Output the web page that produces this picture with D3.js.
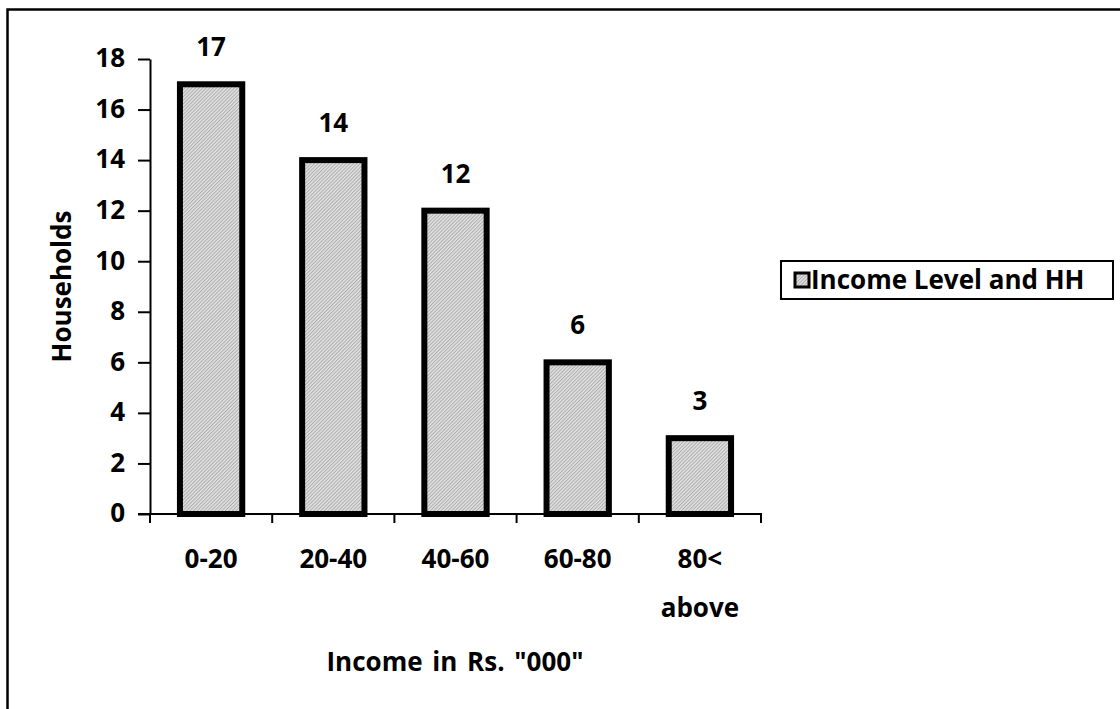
<!DOCTYPE html>
<html>
<head>
<meta charset="utf-8">
<script src="https://cdn.jsdelivr.net/npm/d3@7"></script>
<style>
  html, body { margin: 0; padding: 0; background: #fff; }
  svg { display: block; }
  text { font-family: "Open Sans", Lato, sans-serif; font-weight: bold; fill: #000; }
</style>
</head>
<body>
<svg id="chart" width="1120" height="709"></svg>
<script>
// Income bands (Rs. '000) and number of households in each
const categories = ["0-20", "20-40", "40-60", "60-80", "80< above"];
const households = [17, 14, 12, 6, 3];
const yTicks = [0, 2, 4, 6, 8, 10, 12, 14, 16, 18];
const seriesName = "Income Level and HH";
const xTitle = 'Income in Rs. "000"';
const yTitle = "Households";

const FONT = "'Open Sans', Lato, sans-serif";
const FS = "26px";

const svg = d3.select("#chart");

// hatched grey fill for the bars
const defs = svg.append("defs");
const pat = defs.append("pattern")
  .attr("id", "hatch")
  .attr("patternUnits", "userSpaceOnUse")
  .attr("width", 2.5).attr("height", 2.5)
  .attr("patternTransform", "rotate(45)");
pat.append("rect").attr("width", 2.5).attr("height", 2.5).attr("fill", "#e2e2e2");
pat.append("rect").attr("width", 1).attr("height", 2.5).attr("fill", "#acacac");

// outer frame
svg.append("rect")
  .attr("x", 7.5).attr("y", 9.5)
  .attr("width", 1130).attr("height", 720)
  .attr("fill", "none").attr("stroke", "#000").attr("stroke-width", 2.5);

const plot = { left: 150, right: 761, top: 59, bottom: 514 };

const x = d3.scaleBand()
  .domain(categories)
  .range([plot.left, plot.right])
  .paddingInner(0.49).paddingOuter(0.245);

const y = d3.scaleLinear().domain([0, 18]).range([plot.bottom, plot.top]);

// y axis
const yAxis = svg.append("g")
  .attr("transform", `translate(${plot.left},0)`)
  .call(d3.axisLeft(y).tickValues(yTicks).tickSize(12).tickSizeOuter(0).tickPadding(13));
yAxis.select(".domain").attr("stroke", "#000").attr("stroke-width", 2);
yAxis.selectAll(".tick line").attr("stroke", "#000").attr("stroke-width", 2);
yAxis.selectAll(".tick text")
  .style("font-size", FS).style("font-family", FONT).style("font-weight", "bold")
  .attr("dy", "0.3em");

// x axis: ticks at category boundaries, pointing down
const boundaries = d3.range(categories.length + 1).map(i => plot.left + i * (plot.right - plot.left) / categories.length);
svg.append("line")
  .attr("x1", plot.left - 12).attr("x2", plot.right + 1)
  .attr("y1", plot.bottom).attr("y2", plot.bottom)
  .attr("stroke", "#000").attr("stroke-width", 2);
svg.selectAll(".xtick").data(boundaries).join("line")
  .attr("class", "xtick")
  .attr("x1", d => d).attr("x2", d => d)
  .attr("y1", plot.bottom).attr("y2", plot.bottom + 9)
  .attr("stroke", "#000").attr("stroke-width", 2);

// category labels (wrapped on spaces)
const catCenter = c => x(c) + x.bandwidth() / 2;
svg.selectAll(".xlab").data(categories).join("text")
  .attr("class", "xlab")
  .attr("text-anchor", "middle")
  .style("font-size", FS)
  .each(function (c) {
    const lines = c.split(" ");
    const t = d3.select(this);
    lines.forEach((ln, i) => {
      t.append("tspan").attr("x", catCenter(c)).attr("y", 568 + i * 49).text(ln);
    });
  });

// bars
svg.selectAll(".bar").data(categories).join("rect")
  .attr("class", "bar")
  .attr("x", c => x(c))
  .attr("y", (c, i) => y(households[i]))
  .attr("width", x.bandwidth())
  .attr("height", (c, i) => plot.bottom - y(households[i]))
  .attr("fill", "url(#hatch)")
  .attr("stroke", "#000").attr("stroke-width", 6);

// value labels
svg.selectAll(".val").data(categories).join("text")
  .attr("class", "val")
  .attr("text-anchor", "middle")
  .attr("x", c => catCenter(c))
  .attr("y", (c, i) => y(households[i]) - 28)
  .style("font-size", FS)
  .text((c, i) => households[i]);

// axis titles
svg.append("text")
  .attr("x", 455).attr("y", 671)
  .attr("text-anchor", "middle")
  .style("font-size", FS)
  .style("word-spacing", "3px")
  .text(xTitle);
svg.append("text")
  .attr("transform", `translate(71,${(plot.top + plot.bottom) / 2}) rotate(-90)`)
  .attr("text-anchor", "middle")
  .style("font-size", FS)
  .text(yTitle);

// legend
const lg = svg.append("g");
lg.append("rect")
  .attr("x", 781).attr("y", 261).attr("width", 332).attr("height", 38)
  .attr("fill", "#fff").attr("stroke", "#000").attr("stroke-width", 2);
lg.append("rect")
  .attr("x", 795).attr("y", 273).attr("width", 14).attr("height", 14)
  .attr("fill", "url(#hatch)").attr("stroke", "#000").attr("stroke-width", 3);
lg.append("text")
  .attr("x", 811).attr("y", 289)
  .style("font-size", FS)
  .text(seriesName);
</script>
</body>
</html>
